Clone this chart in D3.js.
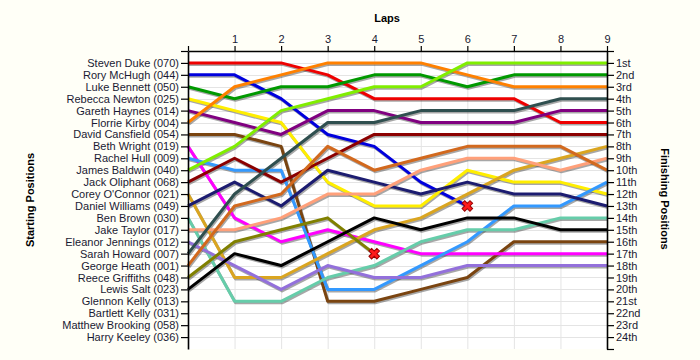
<!DOCTYPE html>
<html>
<head>
<meta charset="utf-8">
<script src="https://cdn.jsdelivr.net/npm/d3@7"></script>
<style>
  html, body { margin: 0; padding: 0; background: #fffff7; }
  svg { display: block; }
  text { font-family: "Liberation Sans", Arial, sans-serif; }
</style>
</head>
<body>
<svg id="chart" width="700" height="360"></svg>
<script>
// ---- data ----
const lapTicks = [0, 1, 2, 3, 4, 5, 6, 7, 8, 9];
const drivers = [
  "Steven Duke (070)", "Rory McHugh (044)", "Luke Bennett (050)", "Rebecca Newton (025)",
  "Gareth Haynes (014)", "Florrie Kirby (004)", "David Cansfield (054)", "Beth Wright (019)",
  "Rachel Hull (009)", "James Baldwin (040)", "Jack Oliphant (068)", "Corey O'Connor (021)",
  "Daniel Williams (049)", "Ben Brown (030)", "Jake Taylor (017)", "Eleanor Jennings (012)",
  "Sarah Howard (007)", "George Heath (001)", "Reece Griffiths (048)", "Lewis Salt (023)",
  "Glennon Kelly (013)", "Bartlett Kelly (031)", "Matthew Brooking (058)", "Harry Keeley (036)"
];
const finishLabels = [
  "1st", "2nd", "3rd", "4th", "5th", "6th", "7th", "8th", "9th", "10th", "11th", "12th",
  "13th", "14th", "15th", "16th", "17th", "18th", "19th", "20th", "21st", "22nd", "23rd", "24th"
];
// positions at lap 0..9 (lap 0 = starting grid); shorter arrays = retired
const stevenDuke      = [1, 1, 1, 2, 4, 4, 4, 4, 6, 6];
const roryMcHugh      = [2, 2, 4, 7, 8, 11, 13];
const lukeBennett     = [3, 4, 3, 3, 2, 2, 3, 2, 2, 2];
const rebeccaNewton   = [4, 5, 6, 11, 13, 13, 10, 11, 11, 12];
const garethHaynes    = [5, 6, 7, 5, 5, 6, 6, 6, 5, 5];
const florrieKirby    = [6, 3, 2, 1, 1, 1, 2, 3, 3, 3];
const davidCansfield  = [7, 7, 8, 21, 21, 20, 19, 16, 16, 16];
const bethWright      = [8, 14, 16, 15, 16, 17, 17, 17, 17, 17];
const rachelHull      = [9, 10, 10, 20, 20, 18, 16, 13, 13, 11];
const jamesBaldwin    = [10, 8, 5, 4, 3, 3, 1, 1, 1, 1];
const jackOliphant    = [11, 9, 11, 9, 7, 7, 7, 7, 7, 7];
const coreyOConnor    = [12, 19, 19, 17, 15, 14, 12, 10, 9, 8];
const danielWilliams  = [13, 11, 13, 10, 11, 12, 11, 12, 12, 13];
const benBrown        = [14, 21, 21, 19, 18, 16, 15, 15, 14, 14];
const jakeTaylor      = [15, 15, 14, 12, 12, 10, 9, 9, 10, 9];
const eleanorJennings = [16, 18, 20, 18, 19, 19, 18, 18, 18, 18];
const sarahHoward     = [17, 12, 9, 6, 6, 5, 5, 5, 4, 4];
const georgeHeath     = [18, 13, 12, 8, 10, 9, 8, 8, 8, 10];
const reeceGriffiths  = [19, 16, 15, 14, 17];
const lewisSalt       = [20, 17, 18, 16, 14, 15, 14, 14, 15, 15];

const seriesValues = [
  stevenDuke, roryMcHugh, lukeBennett, rebeccaNewton, garethHaynes, florrieKirby,
  davidCansfield, bethWright, rachelHull, jamesBaldwin, jackOliphant, coreyOConnor,
  danielWilliams, benBrown, jakeTaylor, eleanorJennings, sarahHoward, georgeHeath,
  reeceGriffiths, lewisSalt
];
const seriesColors = [
  "#ee0000", "#0000dd", "#009900", "#ffee00", "#800080", "#ff8000",
  "#7a4410", "#ff00ff", "#3399ff", "#80ee00", "#8b0000", "#daa520",
  "#1c1c70", "#66cdaa", "#ffa07a", "#9370db", "#2f4f4f", "#d2691e",
  "#808000", "#000000"
];
const retiredDrivers = [1, 18]; // indexes into seriesValues

// ---- layout ----
const svg = d3.select("#chart");
const x = d3.scaleLinear().domain([0, 9]).range([188, 607]);
const y = d3.scaleLinear().domain([0, 25]).range([51, 349]);

// plot background
svg.append("rect")
  .attr("x", x(0)).attr("y", y(0))
  .attr("width", x(9) - x(0)).attr("height", y(25) - y(0))
  .attr("fill", "#ffffff");

// grid
const grid = svg.append("g").attr("stroke", "#e4e4e4").attr("stroke-width", 1);
grid.selectAll("line.v").data(lapTicks.slice(1, 9)).join("line")
  .attr("x1", d => x(d) + 0.5).attr("x2", d => x(d) + 0.5)
  .attr("y1", y(0)).attr("y2", y(25));
grid.selectAll("line.h").data(d3.range(1, 25)).join("line")
  .attr("x1", x(0)).attr("x2", x(9))
  .attr("y1", d => Math.round(y(d)) + 0.5).attr("y2", d => Math.round(y(d)) + 0.5);

// lines
const line = d3.line().x((d, i) => x(i)).y(d => y(d));
const linesG = svg.append("g");
seriesValues.forEach((vals, i) => {
  linesG.append("path")
    .attr("d", line(vals))
    .attr("fill", "none")
    .attr("stroke", "rgba(60,60,60,0.45)")
    .attr("stroke-width", 3)
    .attr("stroke-linejoin", "round")
    .attr("transform", "translate(1,1.5)");
});
seriesValues.forEach((vals, i) => {
  linesG.append("path")
    .attr("d", line(vals))
    .attr("fill", "none")
    .attr("stroke", seriesColors[i])
    .attr("stroke-width", 3)
    .attr("stroke-linejoin", "round");
});

// retirement markers
const cross = d3.symbol().type(d3.symbolCross).size(70);
retiredDrivers.forEach(i => {
  const vals = seriesValues[i];
  const lap = vals.length - 1;
  svg.append("path")
    .attr("d", cross())
    .attr("transform", `translate(${x(lap)},${y(vals[lap])}) rotate(45)`)
    .attr("fill", "#ff1a1a")
    .attr("stroke", "#990000")
    .attr("stroke-width", 1);
});

// axes
const textColor = "#1a1a33";
const topAxis = svg.append("g").attr("transform", `translate(0,${y(0)})`)
  .call(d3.axisTop(x).tickValues(lapTicks).tickFormat(d => d === 0 ? "" : d).tickSize(5).tickSizeOuter(0));
const leftAxis = svg.append("g").attr("transform", `translate(${x(0)},0)`)
  .call(d3.axisLeft(y).tickValues(d3.range(0, 25)).tickFormat(d => d === 0 ? "" : drivers[d - 1]).tickSize(7).tickSizeOuter(0));
const rightAxis = svg.append("g").attr("transform", `translate(${x(9)},0)`)
  .call(d3.axisRight(y).tickValues(d3.range(0, 26)).tickFormat(d => (d === 0 || d === 25) ? "" : finishLabels[d - 1]).tickSize(7).tickSizeOuter(0));

[topAxis, leftAxis, rightAxis].forEach(g => {
  g.select(".domain").attr("stroke", "#000").attr("stroke-width", 1.6);
  g.selectAll(".tick line").attr("stroke", "#000").attr("stroke-width", 1.2);
  g.selectAll(".tick text").attr("fill", textColor).attr("font-size", 11)
    .attr("font-family", "'Liberation Sans', Arial, sans-serif");
});
topAxis.selectAll(".tick text").attr("dy", "0").attr("y", -8);
leftAxis.selectAll(".tick text").attr("x", -9);
rightAxis.selectAll(".tick text").attr("x", 9);

// titles
svg.append("text").attr("x", 387).attr("y", 22).attr("text-anchor", "middle")
  .attr("font-size", 11).attr("font-weight", "bold").attr("fill", "#000").text("Laps");
svg.append("text").attr("transform", "translate(34,200) rotate(-90)").attr("text-anchor", "middle")
  .attr("font-size", 11).attr("font-weight", "bold").attr("fill", "#000").text("Starting Positions");
svg.append("text").attr("transform", "translate(661,199) rotate(90)").attr("text-anchor", "middle")
  .attr("font-size", 11).attr("font-weight", "bold").attr("fill", "#000").text("Finishing Positions");
</script>
</body>
</html>
